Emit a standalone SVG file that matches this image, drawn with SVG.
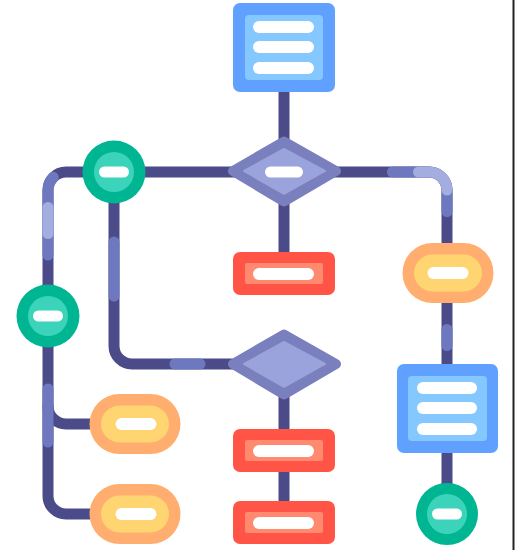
<svg xmlns="http://www.w3.org/2000/svg" width="515" height="550" viewBox="0 0 515 550">
<style>
.ln{fill:none;stroke-width:11;stroke-linecap:round;stroke-linejoin:round}
.dk{stroke:#4c4b89}
.md{stroke:#6e78be}
.lt{stroke:#a3addf}
.docO{fill:#60a0ff}.docI{fill:#85c8ff}
.redO{fill:#ff5446}.redI{fill:#ff8a70}
.orO{fill:#ffae70}.orI{fill:#ffd572}
.ciO{fill:#00b592}.ciI{fill:#3bd4bb}
.wh{fill:#ffffff}
.diO{fill:#7a7fbd;stroke:#7a7fbd;stroke-width:10;stroke-linejoin:round}
.diI{fill:#9aa3dc;stroke:#9aa3dc;stroke-width:2;stroke-linejoin:round}
</style>
<rect width="515" height="550" fill="#ffffff"/>
<rect x="512.5" y="0" width="2" height="550" fill="#222222"/>
<g id="connectors">
  <path class="ln dk" d="M284 92 V140"/>
  <path class="ln dk" d="M284 200 V255"/>
  <path class="ln dk" d="M284 395 V432"/>
  <path class="ln dk" d="M284 470 V503"/>
  <path class="ln dk" d="M48 285 V190 A18 18 0 0 1 66 172 H429 A18 18 0 0 1 447 190 V245"/>
  <path class="ln dk" d="M114 172 V346 A18 18 0 0 0 132 364 H232"/>
  <path class="ln dk" d="M48 347 V496 A18 18 0 0 0 66 514 H92"/>
  <path class="ln dk" d="M48 406 A18 18 0 0 0 66 424 H92"/>
  <path class="ln dk" d="M447 303 V366"/>
  <path class="ln dk" d="M447 453 V485"/>
  <path class="ln md" d="M53.3 177.3 A18 18 0 0 0 48 190 V255"/>
  <path class="ln lt" d="M48 207.5 V233.5"/>
  <path class="ln md" d="M114 242 V296"/>
  <path class="ln md" d="M175 364 H200"/>
  <path class="ln md" d="M48 389 V442"/>
  <path class="ln md" d="M392.5 172 H429 A18 18 0 0 1 447 190 V211.5"/>
  <path class="ln lt" d="M418.5 172 H429 A18 18 0 0 1 447 190"/>
  <path class="ln md" d="M447 329.5 V345.5"/>
</g>
<g id="doc-top">
  <rect class="docO" x="233" y="3" width="102" height="89" rx="7"/>
  <rect class="docI" x="245" y="15" width="78" height="65" rx="4"/>
  <rect class="wh" x="253" y="21" width="61" height="12" rx="6"/>
  <rect class="wh" x="253" y="41" width="61" height="12" rx="6"/>
  <rect class="wh" x="253" y="62" width="61" height="12" rx="6"/>
</g>
<g id="decision-top">
  <polygon class="diO" points="233,171 284,141.5 336,171 284,201.5"/>
  <polygon class="diI" points="244,171 284,149 325,171 284,194"/>
  <rect class="wh" x="265" y="166.5" width="38" height="11" rx="5.5"/>
</g>
<g id="start-circle">
  <circle class="ciO" cx="114" cy="172" r="31.5"/>
  <circle class="ciI" cx="114" cy="172" r="20"/>
  <rect class="wh" x="99" y="166.5" width="30" height="11" rx="5.5"/>
</g>
<g id="process-1">
  <rect class="redO" x="233" y="252" width="102" height="43" rx="7"/>
  <rect class="redI" x="245" y="263" width="78" height="21" rx="2"/>
  <rect class="wh" x="253" y="268" width="61" height="12" rx="6"/>
</g>
<g id="terminal-right">
  <rect class="orO" x="402.5" y="243" width="91" height="60" rx="30"/>
  <rect class="orI" x="414" y="254.5" width="68" height="37" rx="18.5"/>
  <rect class="wh" x="427.5" y="267" width="41" height="12" rx="6"/>
</g>
<g id="left-circle">
  <circle class="ciO" cx="48" cy="316" r="31.5"/>
  <circle class="ciI" cx="48" cy="316" r="20"/>
  <rect class="wh" x="33" y="310.5" width="30" height="11" rx="5.5"/>
</g>
<g id="decision-bottom">
  <polygon class="diO" points="233,364 284,334.5 336,364 284,394.5"/>
  <polygon class="diI" points="244,364 284,342 325,364 284,387"/>
</g>
<g id="doc-right">
  <rect class="docO" x="397" y="364" width="101" height="89" rx="7"/>
  <rect class="docI" x="408" y="376" width="79" height="65" rx="4"/>
  <rect class="wh" x="417" y="382" width="60" height="12" rx="6"/>
  <rect class="wh" x="417" y="402" width="60" height="12" rx="6"/>
  <rect class="wh" x="417" y="423" width="60" height="12" rx="6"/>
</g>
<g id="terminal-left-1">
  <rect class="orO" x="89.5" y="394" width="91" height="60" rx="30"/>
  <rect class="orI" x="101" y="405.5" width="68" height="37" rx="18.5"/>
  <rect class="wh" x="115.5" y="418" width="41" height="12" rx="6"/>
</g>
<g id="process-2">
  <rect class="redO" x="233" y="429" width="102" height="43" rx="7"/>
  <rect class="redI" x="245" y="440" width="78" height="21" rx="2"/>
  <rect class="wh" x="253" y="445" width="61" height="12" rx="6"/>
</g>
<g id="terminal-left-2">
  <rect class="orO" x="89.5" y="484" width="91" height="60" rx="30"/>
  <rect class="orI" x="101" y="495.5" width="68" height="37" rx="18.5"/>
  <rect class="wh" x="115.5" y="508" width="41" height="12" rx="6"/>
</g>
<g id="process-3">
  <rect class="redO" x="233" y="501" width="102" height="43" rx="7"/>
  <rect class="redI" x="245" y="512" width="78" height="21" rx="2"/>
  <rect class="wh" x="253" y="517" width="61" height="12" rx="6"/>
</g>
<g id="end-circle">
  <circle class="ciO" cx="447" cy="514" r="31"/>
  <circle class="ciI" cx="447" cy="514" r="20"/>
  <rect class="wh" x="432" y="508.5" width="30" height="11" rx="5.5"/>
</g>
</svg>
